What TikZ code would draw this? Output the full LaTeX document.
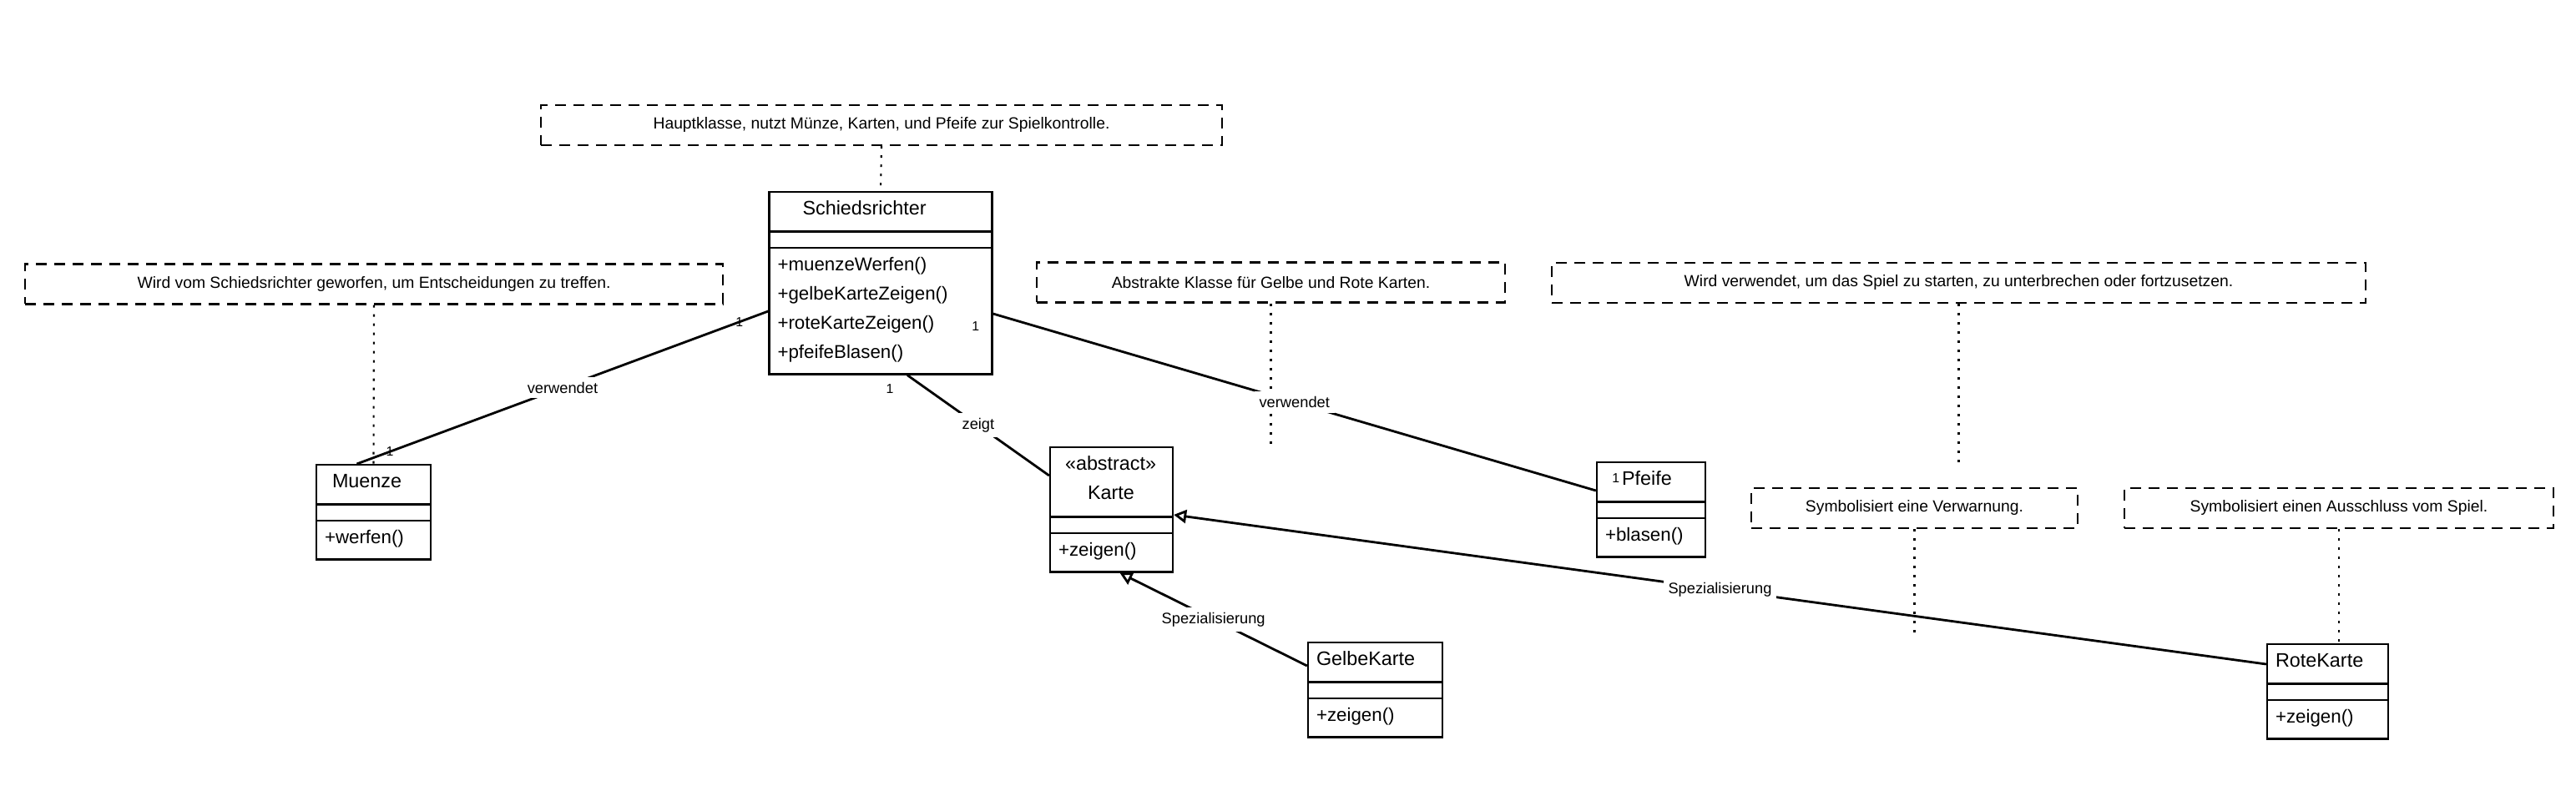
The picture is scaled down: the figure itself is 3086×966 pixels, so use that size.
\documentclass[tikz,border=0pt]{standalone}
\usepackage{fontspec}
\setmainfont{Liberation Sans}
\usepackage{tikz}
\usetikzlibrary{arrows.meta, shapes.multipart, positioning, calc}
\tikzset{
  classbox/.style={
    rectangle split, rectangle split parts=3, draw=black, line width=1.3pt,
    inner xsep=2mm, inner ysep=0.9mm, align=left, anchor=north,
    font=\fontsize{12.7}{7mm}\selectfont
  },
  notebox/.style={
    rectangle, draw=black, line width=1.3pt, dash pattern=on 2.6mm off 1.8mm,
    minimum height=9.6mm, inner sep=0pt, align=center, font=\fontsize{11}{13}\selectfont
  },
  assoc/.style={line width=1.6pt},
  inherit/.style={line width=1.6pt, -{Triangle[open, length=3mm, width=3.2mm]}},
  notelink/.style={line width=1.2pt, dash pattern=on 0.6mm off 1.6mm},
  rellabel/.style={font=\fontsize{10.4}{12}\selectfont, fill=white, inner sep=1.2mm},
  mult/.style={font=\fontsize{9}{11}\selectfont, inner sep=0.5pt}
}
\newcommand{\clsTop}{\rule{0pt}{4.4mm}}
\newcommand{\clsBot}{\rule[-2.8mm]{0pt}{0pt}}
\newcommand{\mthBot}{\rule[-2.7mm]{0pt}{0pt}}
\newcommand{\clsGap}{\rule{0pt}{1.6mm}}
\newcommand{\clsName}{\fontsize{13.3}{7mm}\selectfont\clsTop}

\begin{document}
\begin{tikzpicture}[x=0.2mm, y=-0.2mm]
    \useasboundingbox (0,0) rectangle (3086,966);

    % Classes
    \node[classbox, text width=49.4mm] (schiri) at (1055,229) {\clsName\hspace*{6mm}Schiedsrichter\clsBot
      \nodepart{two}\clsGap
      \nodepart{three}\clsTop+muenzeWerfen()\\+gelbeKarteZeigen()\\+roteKarteZeigen()\\+pfeifeBlasen()\mthBot};
    \node[classbox, text width=23.4mm] (muenze) at (447.5,556) {\clsName\hspace*{1.8mm}Muenze\clsBot
      \nodepart{two}\clsGap
      \nodepart{three}\clsTop+werfen()\mthBot};
    \node[classbox, text width=25.4mm] (karte) at (1331.5,535) {\clsName\hspace*{1.6mm}«abstract»\\\hspace*{7mm}Karte\rule[-3mm]{0pt}{0pt}
      \nodepart{two}\clsGap
      \nodepart{three}\clsTop+zeigen()\mthBot};
    \node[classbox, text width=22mm] (pfeife) at (1978,553) {\clsName\hspace*{4mm}Pfeife\clsBot
      \nodepart{two}\clsGap
      \nodepart{three}\clsTop+blasen()\mthBot};
    \node[classbox, text width=28.2mm] (gelb) at (1647.5,769) {\clsName GelbeKarte\clsBot
      \nodepart{two}\clsGap
      \nodepart{three}\clsTop+zeigen()\mthBot};
    \node[classbox, text width=25mm] (rot) at (2788.5,771) {\clsName RoteKarte\clsBot
      \nodepart{two}\clsGap
      \nodepart{three}\clsTop+zeigen()\mthBot};

    % Notes
    \node[notebox, minimum width=163.2mm] (nSchiri) at (1056,150) {Hauptklasse, nutzt Münze, Karten, und Pfeife zur Spielkontrolle.};
    \node[notebox, minimum width=167.2mm] (nMuenze) at (448,340.5) {Wird vom Schiedsrichter geworfen, um Entscheidungen zu treffen.};
    \node[notebox, minimum width=112.2mm] (nKarte) at (1522.5,338.5) {Abstrakte Klasse für Gelbe und Rote Karten.};
    \node[notebox, minimum width=195mm] (nPfeife) at (2346.5,339) {Wird verwendet, um das Spiel zu starten, zu unterbrechen oder fortzusetzen.};
    \node[notebox, minimum width=78.2mm] (nGelb) at (2293.5,609) {Symbolisiert eine Verwarnung.};
    \node[notebox, minimum width=102.8mm] (nRot) at (2802,609) {Symbolisiert einen Ausschluss vom Spiel.};

    \coordinate (kEnd) at (1522.5,532);
    \coordinate (pEnd) at (2346.5,557);
    \coordinate (gEnd) at (2293.5,763);

    % Note links
    \draw[notelink] (nSchiri.south) -- (schiri.north);
    \draw[notelink] (nMuenze.south) -- (muenze.north);
    \draw[notelink] (nKarte.south) -- (kEnd);
    \draw[notelink] (nPfeife.south) -- (pEnd);
    \draw[notelink] (nGelb.south) -- (gEnd);
    \draw[notelink] (nRot.south) -- (nRot.south |- rot.north);

    % Associations
    \draw[assoc] ([shift={(0,144)}]schiri.north west) -- node[rellabel] {verwendet}
      node[mult, pos=0.07] {1} node[mult, pos=0.92] {1} ([shift={(-20,0)}]muenze.north);
    \draw[assoc] ([shift={(32,0)}]schiri.south) -- node[rellabel] {zeigt}
      node[mult, at start, shift={(-21,16)}] {1} ([shift={(0,35)}]karte.north west);
    \draw[assoc] ([shift={(0,147)}]schiri.north east) -- node[rellabel] {verwendet}
      node[mult, at start, shift={(-21,15)}] {1} node[mult, at end, shift={(24,-15)}] {1}
      ([shift={(0,35)}]pfeife.north west);

    % Generalisation
    \draw[inherit] ([shift={(0,29)}]gelb.north west) -- node[rellabel] {Spezialisierung} ([shift={(10,0)}]karte.south);
    \draw[inherit] ([shift={(0,25)}]rot.north west) -- node[rellabel] {Spezialisierung} ([shift={(0,82)}]karte.north east);

\end{tikzpicture}
\end{document}
